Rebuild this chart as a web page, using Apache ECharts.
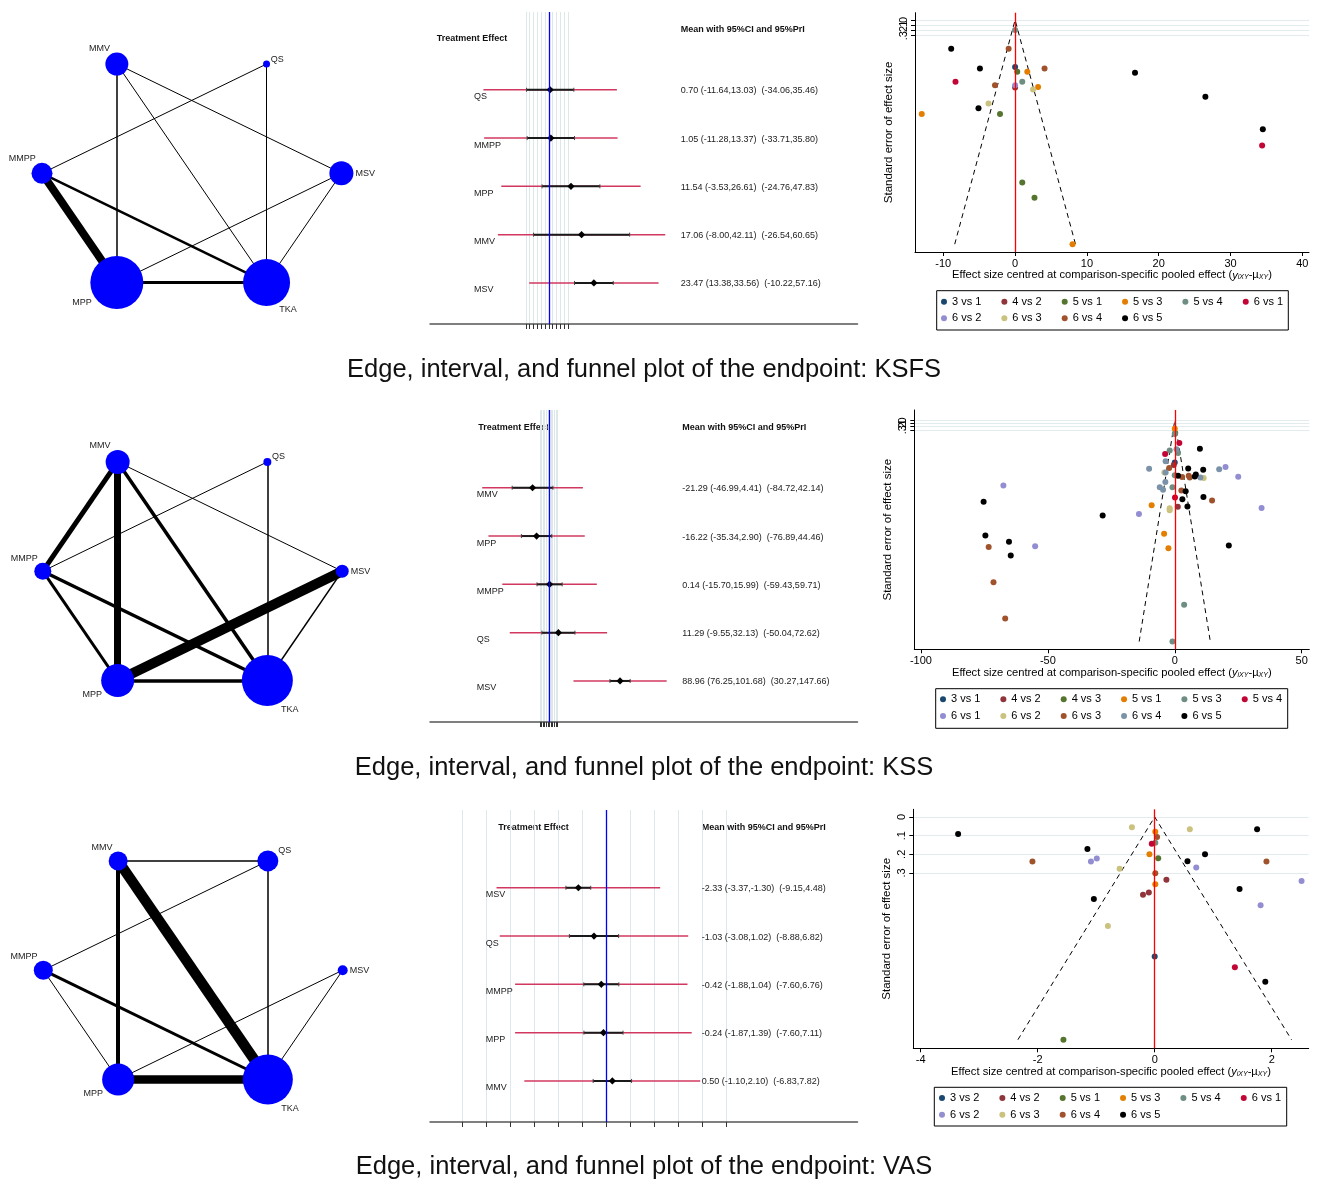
<!DOCTYPE html>
<html><head><meta charset="utf-8">
<script src="https://cdn.jsdelivr.net/npm/echarts@6/dist/echarts.min.js"></script>
<style>html,body{margin:0;padding:0;background:#fff}#c{width:1317px;height:1182px}</style>
</head><body><div id="c"></div>
<script>
const FONT = '"Liberation Sans", Arial, Helvetica, sans-serif';

// ================= NETWORK DATA =================
// nodes in circular order (counter-clockwise starting at the right)
const netNodes = ['MSV', 'QS', 'MMV', 'MMPP', 'MPP', 'TKA'];
const ksfsNodeSize = [24, 7, 23, 21, 53, 47];
const kssNodeSize  = [13, 8, 24, 17, 33, 51];
const vasNodeSize  = [10, 21, 19, 19, 32, 50];
const ksfsEdges = [['MMPP','MPP',8], ['MMPP','TKA',2.5], ['MPP','TKA',3], ['MMV','MPP',1.5], ['MMV','TKA',1],
                   ['MMV','MSV',1], ['QS','MMPP',1], ['QS','TKA',1], ['MSV','MPP',1], ['MSV','TKA',1]];
const kssEdges  = [['MMV','MMPP',5], ['MMV','MPP',7], ['MMV','TKA',3.5], ['MMV','MSV',1], ['QS','MMPP',1],
                   ['QS','TKA',1.5], ['MSV','MPP',10], ['MSV','TKA',1.5], ['MMPP','MPP',3], ['MMPP','TKA',3.5], ['MPP','TKA',3.5]];
const vasEdges  = [['MMV','QS',1.5], ['MMV','TKA',10.5], ['MMV','MPP',4], ['QS','MMPP',1], ['QS','TKA',1.5],
                   ['MSV','MPP',1], ['MSV','TKA',1], ['MMPP','TKA',3], ['MMPP','MPP',1], ['MPP','TKA',8.5]];

// ================= INTERVAL (FOREST) DATA =================
const forestTicks = [-12, -10, -8, -6, -4, -2, 0, 2, 4, 6, 8, 10];
const ksfsNames = ['QS', 'MMPP', 'MPP', 'MMV', 'MSV'];
const ksfsMean  = [0.70, 1.05, 11.54, 17.06, 23.47];
const ksfsCiLo  = [-11.64, -11.28, -3.53, -8.00, 13.38];
const ksfsCiHi  = [13.03, 13.37, 26.61, 42.11, 33.56];
const ksfsPrLo  = [-34.06, -33.71, -24.76, -26.54, -10.22];
const ksfsPrHi  = [35.46, 35.80, 47.83, 60.65, 57.16];

const kssNames = ['MMV', 'MPP', 'MMPP', 'QS', 'MSV'];
const kssMean  = [-21.29, -16.22, 0.14, 11.29, 88.96];
const kssCiLo  = [-46.99, -35.34, -15.70, -9.55, 76.25];
const kssCiHi  = [4.41, 2.90, 15.99, 32.13, 101.68];
const kssPrLo  = [-84.72, -76.89, -59.43, -50.04, 30.27];
const kssPrHi  = [42.14, 44.46, 59.71, 72.62, 147.66];

const vasNames = ['MSV', 'QS', 'MMPP', 'MPP', 'MMV'];
const vasMean  = [-2.33, -1.03, -0.42, -0.24, 0.50];
const vasCiLo  = [-3.37, -3.08, -1.88, -1.87, -1.10];
const vasCiHi  = [-1.30, 1.02, 1.04, 1.39, 2.10];
const vasPrLo  = [-9.15, -8.88, -7.60, -7.60, -6.83];
const vasPrHi  = [4.48, 6.82, 6.76, 7.11, 7.82];

// ================= FUNNEL DATA =================
const seTicks = [0, 0.1, 0.2, 0.3];
const ksfsXTicks = [-10, 0, 10, 20, 30, 40];
const kssXTicks  = [-100, -50, 0, 50];
const vasXTicks  = [-4, -2, 0, 2];

const ksfsComps = ['3 vs 1','4 vs 2','5 vs 1','5 vs 3','5 vs 4','6 vs 1','6 vs 2','6 vs 3','6 vs 4','6 vs 5'];
const ksfsPtComp = ['5 vs 4','6 vs 5','6 vs 4','6 vs 5','3 vs 1','5 vs 1','5 vs 3','6 vs 4','6 vs 5','6 vs 1',
                    '6 vs 4','4 vs 2','6 vs 2','5 vs 4','6 vs 3','5 vs 3','6 vs 5','6 vs 3','6 vs 5','5 vs 1',
                    '5 vs 3','6 vs 5','6 vs 1','5 vs 1','5 vs 1','5 vs 3'];
const ksfsPtX  = [0, -8.9, -0.9, -4.9, 0, 0.3, 1.7, 4.1, 16.7, -8.3,
                  -2.8, 0, 0, 1.0, 2.5, 3.2, 26.5, -3.7, -5.1, -2.1,
                  -13.0, 34.5, 34.4, 1.0, 2.7, 8.0];
const ksfsPtSE = [0.19, 0.55, 0.55, 0.93, 0.90, 0.99, 0.99, 0.93, 1.01, 1.18,
                  1.25, 1.29, 1.25, 1.18, 1.33, 1.28, 1.47, 1.60, 1.69, 1.80,
                  1.80, 2.09, 2.40, 3.11, 3.40, 4.29];

const kssComps = ['3 vs 1','4 vs 2','4 vs 3','5 vs 1','5 vs 3','5 vs 4','6 vs 1','6 vs 2','6 vs 3','6 vs 4','6 vs 5'];
const kssPtComp = ['5 vs 1','5 vs 3','4 vs 3','5 vs 4','6 vs 5','5 vs 4','5 vs 3','6 vs 4','5 vs 3','6 vs 4',
                   '3 vs 1','4 vs 2','6 vs 4','6 vs 2','6 vs 3','6 vs 4','6 vs 5','6 vs 5','6 vs 1','6 vs 4',
                   '6 vs 1','6 vs 5','6 vs 3','6 vs 3','6 vs 3','6 vs 5','6 vs 5','6 vs 4','6 vs 2','5 vs 3',
                   '6 vs 4','6 vs 4','6 vs 4','5 vs 3','6 vs 3','6 vs 5','6 vs 1','6 vs 5','5 vs 4','6 vs 5',
                   '6 vs 5','6 vs 3','5 vs 1','6 vs 2','6 vs 2','4 vs 2','6 vs 5','6 vs 1','6 vs 5','6 vs 1',
                   '6 vs 5','5 vs 1','6 vs 5','6 vs 3','6 vs 1','5 vs 1','6 vs 5','6 vs 5','6 vs 3','5 vs 3',
                   '6 vs 3','5 vs 3'];
const kssPtX  = [0, 0, 0.2, 1.8, 9.9, -3.8, -2.0, 0.7, 1.3, -3.6,
                 0, -0.4, -10.1, -4.1, -2.2, -3.6, 5.3, 11.2, 20.0, 17.5,
                 25.0, 1.3, 2.9, 5.5, 5.9, 7.9, 8.3, 10.1, 11.4, 0,
                 -3.7, -5.9, -4.6, -0.9, 2.6, 4.3, -67.5, -75.3, 0.1, 3.0,
                 11.3, 14.7, -9.1, -2.0, -2.0, 1.2, 5.0, 34.2, -28.4, -14.1,
                 -74.6, -4.2, -65.3, -73.3, -55.0, -2.5, 21.3, -64.6, -71.4, 3.7,
                 -66.8, -0.9];
const kssPtSE = [0.27, 0.44, 0.40, 0.73, 0.91, 1.08, 0.97, 0.93, 1.05, 1.32,
                 1.36, 1.44, 1.56, 1.68, 1.54, 1.68, 1.55, 1.59, 1.50, 1.58,
                 1.82, 1.79, 1.83, 1.79, 1.84, 1.81, 1.75, 1.84, 1.86, 1.77,
                 1.99, 2.16, 2.24, 2.16, 2.26, 2.29, 2.10, 2.63, 2.49, 2.55,
                 2.47, 2.59, 2.74, 2.84, 2.90, 2.79, 2.78, 2.83, 3.07, 3.02,
                 3.72, 3.66, 3.92, 4.09, 4.07, 4.13, 4.04, 4.37, 5.23, 5.96,
                 6.40, 7.15];

const vasComps = ['3 vs 2','4 vs 2','5 vs 1','5 vs 3','5 vs 4','6 vs 1','6 vs 2','6 vs 3','6 vs 4','6 vs 5'];
const vasPtComp = ['6 vs 5','6 vs 3','6 vs 3','6 vs 5','5 vs 3','6 vs 4','5 vs 4','6 vs 1','6 vs 5','6 vs 2',
                   '6 vs 2','6 vs 4','5 vs 3','5 vs 1','6 vs 5','6 vs 5','6 vs 4','6 vs 3','6 vs 2','6 vs 4',
                   '4 vs 2','6 vs 2','5 vs 3','6 vs 5','4 vs 2','4 vs 2','6 vs 5','6 vs 2','6 vs 3','3 vs 2',
                   '6 vs 1','6 vs 5','5 vs 1'];
const vasPtX  = [-3.36, -0.39, 0.60, 1.75, 0.01, 0.04, 0.01, -0.05, -1.15, -0.99,
                 -1.09, -2.09, -0.09, 0.06, 0.86, 0.56, 1.91, -0.60, 0.71, 0.01,
                 0.20, 2.51, 0.01, 1.45, -0.10, -0.20, -1.04, 1.81, -0.80, 0,
                 1.37, 1.89, -1.56];
const vasPtSE = [0.091, 0.055, 0.066, 0.066, 0.079, 0.107, 0.138, 0.143, 0.171, 0.223,
                 0.239, 0.239, 0.200, 0.221, 0.200, 0.237, 0.239, 0.277, 0.271, 0.302,
                 0.336, 0.343, 0.361, 0.386, 0.404, 0.416, 0.439, 0.473, 0.584, 0.748,
                 0.805, 0.882, 1.193];

const captions = ['Edge, interval, and funnel plot of the endpoint: KSFS',
                  'Edge, interval, and funnel plot of the endpoint: KSS',
                  'Edge, interval, and funnel plot of the endpoint: VAS'];

// ================= STYLE / LAYOUT =================
const STATA = ['#1a476f','#90353b','#55752f','#e37e00','#6e8e84','#c10534','#938dd2','#cac27e','#a0522d','#7b92a8'];
const NET_LABEL_DIR = {MMV:'tl', QS:'tr', MSV:'r', MMPP:'tl', MPP:'bl', TKA:'br'};

const panels = [
  { net:{left:42, top:47.1},
    forest:{top:12, xMin:-61.9, xMax:160.8, head:[436.7,39], nameDx:44, valDx:250.7, meanHead:[680.7,30]},
    funnel:{left:915, width:394, top:12.7, height:239.3, xMin:-13.94, xMax:40.93, yMin:-0.14, yMax:4.44,
            legLeft:941, legRows:[302.7,319.3], box:[936.7,290.7,351.6,39.3]},
    capY:370 },
  { net:{left:42.8, top:445},
    forest:{top:410, xMin:-150.5, xMax:388.1, head:[478.3,428], nameDx:46.7, valDx:252.3, meanHead:[682.3,428]},
    funnel:{left:914.3, width:395, top:410, height:239.3, xMin:-102.6, xMax:53.0, yMin:-0.34, yMax:7.40,
            legLeft:940, legRows:[700.3,717], box:[935.7,688.7,352,39.6]},
    capY:768 },
  { net:{left:43.3, top:844},
    forest:{top:810, xMin:-14.69, xMax:20.92, head:[498.3,827.3], nameDx:55.7, valDx:271.7, meanHead:[701.7,827.3]},
    funnel:{left:913.3, width:395.4, top:809.3, height:239, xMin:-4.126, xMax:2.632, yMin:-0.041, yMax:1.239,
            legLeft:939, legRows:[1099,1115.7], box:[934.3,1087.3,352.4,38.7]},
    capY:1167 }
];

const netData = [
  {sizes:ksfsNodeSize, edges:ksfsEdges},
  {sizes:kssNodeSize, edges:kssEdges},
  {sizes:vasNodeSize, edges:vasEdges}
];
const forestData = [
  {names:ksfsNames, mean:ksfsMean, ciLo:ksfsCiLo, ciHi:ksfsCiHi, prLo:ksfsPrLo, prHi:ksfsPrHi},
  {names:kssNames, mean:kssMean, ciLo:kssCiLo, ciHi:kssCiHi, prLo:kssPrLo, prHi:kssPrHi},
  {names:vasNames, mean:vasMean, ciLo:vasCiLo, ciHi:vasCiHi, prLo:vasPrLo, prHi:vasPrHi}
];
const funnelData = [
  {key:'KSFS', comps:ksfsComps, comp:ksfsPtComp, x:ksfsPtX, se:ksfsPtSE, xTicks:ksfsXTicks},
  {key:'KSS', comps:kssComps, comp:kssPtComp, x:kssPtX, se:kssPtSE, xTicks:kssXTicks},
  {key:'VAS', comps:vasComps, comp:vasPtComp, x:vasPtX, se:vasPtSE, xTicks:vasXTicks}
];

function netLabel(dir, d) {
  const r = d / 2;
  const base = {show:true, fontSize:9, fontFamily:FONT, color:'#222'};
  switch (dir) {
    case 'tl': return Object.assign(base, {position:[0.4*r, 0.05*r], align:'right', verticalAlign:'bottom'});
    case 'tr': return Object.assign(base, {position:[1.9*r+1, 0.2*r-2], align:'left', verticalAlign:'middle'});
    case 'r':  return Object.assign(base, {position:[2*r+2, r], align:'left', verticalAlign:'middle'});
    case 'bl': return Object.assign(base, {position:[0.05*r, 1.57*r], align:'right', verticalAlign:'top'});
    default:   return Object.assign(base, {position:[1.54*r, 1.97*r], align:'left', verticalAlign:'top'});
  }
}

const grid = [], xAxis = [], yAxis = [], series = [], legend = [], graphic = [];
const f2 = v => v.toFixed(2);
const seFmt = v => v === 0 ? '0' : String(v).replace(/^0\./, '.');

panels.forEach((P, p) => {
  // ---------- network ----------
  let gi = grid.length;
  grid.push({left:P.net.left, top:P.net.top, width:299.4, height:252.4});
  let xi = xAxis.length, yi = yAxis.length;
  xAxis.push({gridIndex:gi, type:'value', min:-1, max:1, show:false});
  yAxis.push({gridIndex:gi, type:'value', min:-1, max:1, show:false});
  const nd = netData[p];
  const nodes = netNodes.map((name, i) => {
    const ang = 2 * Math.PI * i / netNodes.length;
    const d = nd.sizes[i];
    return {name, value:[Math.cos(ang), Math.sin(ang)], symbolSize:d, label:netLabel(NET_LABEL_DIR[name], d)};
  });
  series.push({
    type:'graph', coordinateSystem:'cartesian2d', xAxisIndex:xi, yAxisIndex:yi,
    data:nodes, links:nd.edges.map(e => ({source:e[0], target:e[1], lineStyle:{width:e[2]}})),
    symbol:'circle', itemStyle:{color:'#0000ff'}, lineStyle:{color:'#000', opacity:1, curveness:0},
    silent:true, animation:false, emphasis:{disabled:true}
  });

  // ---------- forest ----------
  gi = grid.length;
  const F = P.forest;
  grid.push({left:430, top:F.top, width:427.5, height:312});
  xi = xAxis.length; yi = yAxis.length;
  xAxis.push({gridIndex:gi, type:'value', min:F.xMin, max:F.xMax, position:'bottom',
    axisLine:{show:true, onZero:false, lineStyle:{color:'#555', width:1.5}},
    axisTick:{show:true, customValues:forestTicks, length:5, lineStyle:{color:'#333', width:1}},
    axisLabel:{show:false, customValues:forestTicks},
    splitLine:{show:true, lineStyle:{color:'#dce8ea', width:1}}});
  yAxis.push({gridIndex:gi, type:'value', min:-0.61, max:5.85, inverse:true, show:false});
  const fd = forestData[p];
  const rows = fd.names.map((n, i) => [i + 1, fd.mean[i], fd.ciLo[i], fd.ciHi[i], fd.prLo[i], fd.prHi[i]]);
  series.push({
    type:'custom', xAxisIndex:xi, yAxisIndex:yi, data:rows, encode:{x:[1,2,3,4,5], y:0},
    silent:true, animation:false, z:3,
    renderItem: (params, api) => {
      const row = api.value(0);
      const m = api.coord([api.value(1), row]);
      const c1 = api.coord([api.value(2), row]);
      const c2 = api.coord([api.value(3), row]);
      const p1 = api.coord([api.value(4), row]);
      const p2 = api.coord([api.value(5), row]);
      const y = m[1];
      const x0 = params.coordSys.x;
      const i = params.dataIndex;
      const txt = f2(fd.mean[i]) + ' (' + f2(fd.ciLo[i]) + ',' + f2(fd.ciHi[i]) + ')  (' + f2(fd.prLo[i]) + ',' + f2(fd.prHi[i]) + ')';
      return {type:'group', children:[
        {type:'line', shape:{x1:p1[0], y1:y, x2:p2[0], y2:y}, style:{stroke:'#d2385f', lineWidth:1.5}},
        {type:'line', shape:{x1:c1[0], y1:y, x2:c2[0], y2:y}, style:{stroke:'#1a1a1a', lineWidth:2}},
        {type:'line', shape:{x1:c1[0], y1:y-2, x2:c1[0], y2:y+2}, style:{stroke:'#444', lineWidth:1}},
        {type:'line', shape:{x1:c2[0], y1:y-2, x2:c2[0], y2:y+2}, style:{stroke:'#444', lineWidth:1}},
        {type:'polygon', shape:{points:[[m[0]-3.6,y],[m[0],y-3.6],[m[0]+3.6,y],[m[0],y+3.6]]}, style:{fill:'#000'}},
        {type:'text', style:{text:fd.names[i], x:x0+F.nameDx, y:y+7, font:'9px '+FONT, fill:'#222', align:'left', verticalAlign:'middle'}},
        {type:'text', style:{text:txt, x:x0+F.valDx, y:y+1, font:'9px '+FONT, fill:'#222', align:'left', verticalAlign:'middle'}}
      ]};
    },
    markLine:{silent:true, symbol:'none', animation:false, label:{show:false},
      lineStyle:{color:'#0000ff', width:1.3, type:'solid'}, data:[{xAxis:0}]}
  });
  graphic.push({type:'text', x:F.head[0], y:F.head[1], silent:true,
    style:{text:'Treatment Effect', font:'bold 9px '+FONT, fill:'#111', align:'left', verticalAlign:'middle', textAlign:'left', textVerticalAlign:'middle'}});
  graphic.push({type:'text', x:F.meanHead[0], y:F.meanHead[1], silent:true,
    style:{text:'Mean with 95%CI and 95%PrI', font:'bold 9px '+FONT, fill:'#111', align:'left', verticalAlign:'middle', textAlign:'left', textVerticalAlign:'middle'}});

  // ---------- funnel ----------
  gi = grid.length;
  const U = P.funnel, fu = funnelData[p];
  grid.push({left:U.left, top:U.top, width:U.width, height:U.height});
  xi = xAxis.length; yi = yAxis.length;
  xAxis.push({gridIndex:gi, type:'value', min:U.xMin, max:U.xMax, position:'bottom',
    axisLine:{show:true, onZero:false, lineStyle:{color:'#000', width:1}},
    axisTick:{show:true, customValues:fu.xTicks, length:4, lineStyle:{color:'#000'}},
    axisLabel:{show:true, customValues:fu.xTicks, fontSize:11, fontFamily:FONT, color:'#000', margin:6, hideOverlap:false},
    splitLine:{show:false},
    name:'Effect size centred at comparison-specific pooled effect ({it|y}{sub|iXY}-µ{sub|XY})',
    nameLocation:'middle', nameGap:17,
    nameTextStyle:{fontSize:11.2, fontFamily:FONT, color:'#000',
      rich:{it:{fontSize:11.2, fontFamily:FONT, fontStyle:'italic', color:'#000'},
            sub:{fontSize:7, fontFamily:FONT, fontStyle:'italic', color:'#000', verticalAlign:'bottom', lineHeight:8}}}});
  // main SE axis: line, ticks, gridlines, title
  yAxis.push({gridIndex:gi, type:'value', min:U.yMin, max:U.yMax, inverse:true, position:'left',
    axisLine:{show:true, onZero:false, lineStyle:{color:'#000', width:1}},
    axisTick:{show:true, customValues:seTicks, length:4, lineStyle:{color:'#000'}},
    axisLabel:{show:false, customValues:seTicks},
    splitLine:{show:true, lineStyle:{color:'#e2ecee', width:1}},
    name:'Standard error of effect size', nameLocation:'middle', nameGap:20,
    nameTextStyle:{fontSize:11.5, fontFamily:FONT, color:'#000'}});
  // one label-only axis per SE tick so that overlapping labels are all kept (as in the original)
  seTicks.forEach(v => {
    yAxis.push({gridIndex:gi, type:'value', min:U.yMin, max:U.yMax, inverse:true, position:'left', offset:0,
      axisLine:{show:false, onZero:false}, axisTick:{show:false, customValues:[v]}, splitLine:{show:false},
      axisLabel:{show:true, customValues:[v], rotate:90, fontSize:11, fontFamily:FONT, color:'#000', margin:6,
        formatter: seFmt}});
  });
  const seMax = Math.max(...fu.se);
  series.push({type:'line', xAxisIndex:xi, yAxisIndex:yi, symbol:'none', silent:true, animation:false, z:1,
    data:[[-1.96*seMax, seMax], [0, 0], [1.96*seMax, seMax]],
    lineStyle:{color:'#000', width:1, type:[5,4]},
    markLine:{silent:true, symbol:'none', animation:false, label:{show:false},
      lineStyle:{color:'#ff0000', width:1.3, type:'solid'}, data:[{xAxis:0}]}});
  const nComp = fu.comps.length;
  fu.comps.forEach((c, k) => {
    const color = k === nComp - 1 ? '#000000' : STATA[k];
    const pts = [];
    fu.comp.forEach((cc, j) => { if (cc === c) pts.push([fu.x[j], fu.se[j]]); });
    series.push({type:'scatter', name:fu.key + '|' + c, xAxisIndex:xi, yAxisIndex:yi, data:pts,
      symbol:'circle', symbolSize:6, itemStyle:{color, opacity:1}, silent:true, animation:false, z:4});
  });
  const names = fu.comps.map(c => fu.key + '|' + c);
  [names.slice(0, 6), names.slice(6)].forEach((ld, r) => {
    legend.push({data:ld, left:U.legLeft, top:U.legRows[r] - 6.5, orient:'horizontal', padding:0,
      itemWidth:6, itemHeight:6, itemGap:20, icon:'circle', selectedMode:false,
      formatter: n => n.split('|')[1],
      textStyle:{fontSize:11, fontFamily:FONT, color:'#000'}});
  });
  graphic.push({type:'rect', silent:true, shape:{x:U.box[0], y:U.box[1], width:U.box[2], height:U.box[3]},
    style:{fill:'none', stroke:'#000', lineWidth:1}});

  // ---------- caption ----------
  graphic.push({type:'text', x:644, y:P.capY, silent:true,
    style:{text:captions[p], font:'25.5px '+FONT, fill:'#111', align:'center', verticalAlign:'middle', textAlign:'center', textVerticalAlign:'middle'}});
});

const chart = echarts.init(document.getElementById('c'), null, {renderer:'canvas', width:1317, height:1182});
chart.setOption({
  backgroundColor:'#ffffff', animation:false,
  grid, xAxis, yAxis, series, legend, graphic
});
</script>
</body></html>
